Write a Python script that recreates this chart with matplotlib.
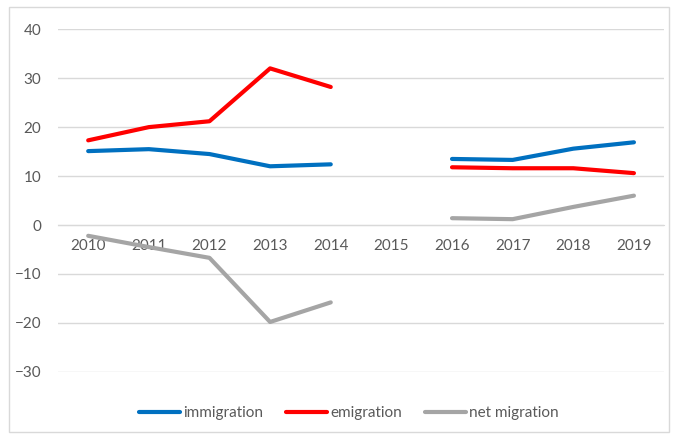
import numpy as np
import matplotlib.pyplot as plt
from matplotlib.patches import Rectangle

plt.rcParams['font.family'] = ['Lato', 'DejaVu Sans']

years = ['2010', '2011', '2012', '2013', '2014', '2015', '2016', '2017', '2018', '2019']
nan = np.nan
immigration = [15.1, 15.5, 14.5, 12.0, 12.4, nan, 13.5, 13.3, 15.6, 16.9]
emigration = [17.3, 20.0, 21.2, 32.0, 28.2, nan, 11.8, 11.6, 11.6, 10.6]
net_migration = [-2.2, -4.5, -6.7, -19.8, -15.8, nan, 1.4, 1.2, 3.7, 6.0]

grid_col = '#D9D9D9'
text_col = '#595959'

fig = plt.figure(figsize=(6.73, 4.36), dpi=100)
ax = fig.add_axes([0.086, 0.147, 0.901, 0.786])

x = np.arange(len(years))
ax.plot(x, immigration, color='#0070C0', lw=3, label='immigration', solid_capstyle='round')
ax.plot(x, emigration, color='#FF0000', lw=3, label='emigration', solid_capstyle='round')
ax.plot(x, net_migration, color='#A5A5A5', lw=3, label='net migration', solid_capstyle='round')

ax.set_xlim(-0.5, len(years) - 0.5)
ax.set_ylim(-30, 40)
ax.set_yticks(range(-30, 41, 10))
ax.yaxis.grid(True, color=grid_col, lw=1)
ax.set_axisbelow(True)

for s in ['left', 'right', 'top']:
    ax.spines[s].set_visible(False)
ax.spines['bottom'].set_position(('data', 0))
ax.spines['bottom'].set_color(grid_col)

ax.set_xticks(x)
ax.set_xticklabels(years)
ax.tick_params(axis='x', length=0, pad=10, labelsize=11, labelcolor=text_col)
ax.tick_params(axis='y', length=0, pad=12, labelsize=11, labelcolor=text_col)

ax.legend(loc='center', bbox_to_anchor=(0.48, -0.12), ncol=3, frameon=False,
          fontsize=11, labelcolor=text_col, handlelength=2.7, handletextpad=0.2,
          columnspacing=1.5)

fig.patches.append(Rectangle((9 / 673, 4 / 436), 660 / 673, 425 / 436,
                             transform=fig.transFigure, fill=False,
                             edgecolor=grid_col, lw=1))

plt.savefig('out.png', dpi=100)
